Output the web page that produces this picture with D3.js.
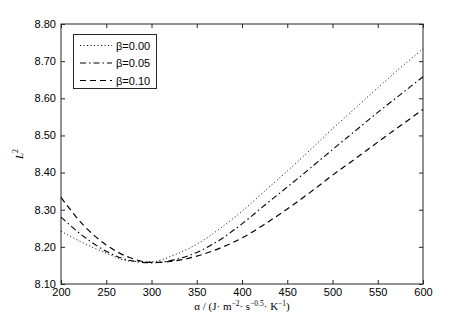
<!DOCTYPE html>
<html><head><meta charset="utf-8">
<script src="https://cdn.jsdelivr.net/npm/d3@7"></script>
<style>body{margin:0;background:#fff}svg{display:block}</style>
</head><body><svg id="c" width="467" height="320"></svg>
<script>
const alphas = [200,225,250,275,300,325,350,375,400,425,450,475,500,525,550,575,600];
const beta000 = [8.242,8.210,8.183,8.162,8.160,8.178,8.207,8.248,8.296,8.350,8.404,8.460,8.518,8.573,8.628,8.682,8.733];
const beta005 = [8.280,8.228,8.188,8.164,8.157,8.165,8.185,8.218,8.262,8.312,8.361,8.411,8.462,8.512,8.562,8.610,8.658];
const beta010 = [8.333,8.258,8.205,8.172,8.158,8.162,8.175,8.196,8.224,8.261,8.302,8.346,8.393,8.437,8.482,8.526,8.570];
const seriesNames = ["β=0.00","β=0.05","β=0.10"];
const xTicks = [200,250,300,350,400,450,500,550,600];
const yTicks = [8.10,8.20,8.30,8.40,8.50,8.60,8.70,8.80];

const svg = d3.select("#c");
const L=61,R=423,T=24,B=284;
const x = d3.scaleLinear().domain([200,600]).range([L,R]);
const y = d3.scaleLinear().domain([8.10,8.80]).range([B,T]);
const axisCol="#262626";
const sans="Liberation Sans, Arial, Helvetica, sans-serif";
const serif="Liberation Serif, Times New Roman, serif";

svg.append("rect").attr("x",L).attr("y",T).attr("width",R-L).attr("height",B-T)
  .attr("fill","none").attr("stroke",axisCol).attr("stroke-width",1);

const gx = svg.append("g").attr("transform",`translate(0,${B})`)
  .call(d3.axisBottom(x).tickValues(xTicks).tickFormat(d3.format("d")).tickSizeInner(-4).tickSizeOuter(0).tickPadding(4));
const gxt = svg.append("g").attr("transform",`translate(0,${T})`)
  .call(d3.axisTop(x).tickValues(xTicks).tickFormat("").tickSizeInner(-4).tickSizeOuter(0));
const gy = svg.append("g").attr("transform",`translate(${L},0)`)
  .call(d3.axisLeft(y).tickValues(yTicks).tickFormat(d3.format(".2f")).tickSizeInner(-4).tickSizeOuter(0).tickPadding(5));
const gyr = svg.append("g").attr("transform",`translate(${R},0)`)
  .call(d3.axisRight(y).tickValues(yTicks).tickFormat("").tickSizeInner(-4).tickSizeOuter(0));
[gx,gxt,gy,gyr].forEach(g=>{
  g.select(".domain").remove();
  g.selectAll("line").attr("stroke",axisCol);
  g.selectAll("text").attr("fill","#000").style("font-family",sans).style("font-size","11px");
});
gy.selectAll("text").attr("dy","0.3em");

const data=[beta000,beta005,beta010];
const dashes=["1,2.5","6,3,1.5,3","6,4"];
const widths=[1,1.1,1.2];
const line=d3.line().x(d=>x(d[0])).y(d=>y(d[1])).curve(d3.curveMonotoneX);
data.forEach((vals,i)=>{
  svg.append("path").datum(alphas.map((a,j)=>[a,vals[j]]))
    .attr("d",line).attr("fill","none").attr("stroke","#000")
    .attr("stroke-width",widths[i]).attr("stroke-dasharray",dashes[i]);
});

const lg=svg.append("g");
lg.append("rect").attr("x",73.5).attr("y",34.5).attr("width",83).attr("height",54)
  .attr("fill","#fff").attr("stroke",axisCol).attr("stroke-width",1);
seriesNames.forEach((n,i)=>{
  const yy=45.5+i*17.5;
  lg.append("line").attr("x1",80).attr("x2",112).attr("y1",yy).attr("y2",yy)
    .attr("stroke","#000").attr("stroke-width",widths[i]).attr("stroke-dasharray",dashes[i]);
  lg.append("text").attr("x",116).attr("y",yy+4).text(n)
    .style("font-family",sans).style("font-size","11px");
});

const xl=svg.append("text").attr("x",(L+R)/2).attr("y",310).attr("text-anchor","middle")
  .style("font-family",serif).style("font-size","11px");
xl.append("tspan").text("α / (J· m");
xl.append("tspan").attr("dy",-4).style("font-size","7.5px").text("−2");
xl.append("tspan").attr("dy",4).text("· s");
xl.append("tspan").attr("dy",-4).style("font-size","7.5px").text("−0.5");
xl.append("tspan").attr("dy",4).text("· K");
xl.append("tspan").attr("dy",-4).style("font-size","7.5px").text("−1");
xl.append("tspan").attr("dy",4).text(")");

const yl=svg.append("text").attr("transform",`translate(23,${(T+B)/2}) rotate(-90)`)
  .attr("text-anchor","middle").style("font-family",serif).style("font-size","11px");
yl.append("tspan").style("font-style","italic").text("L");
yl.append("tspan").attr("dy",-5).style("font-size","8px").text("2");
</script></body></html>
